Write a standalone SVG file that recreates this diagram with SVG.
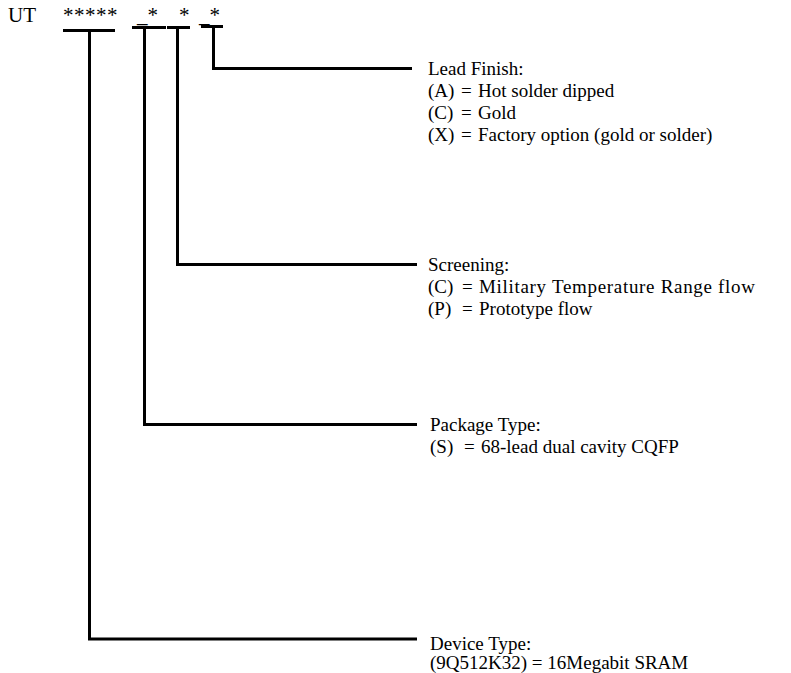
<svg xmlns="http://www.w3.org/2000/svg" width="791" height="673" viewBox="0 0 791 673">
<style>
text{font-family:"Liberation Serif","Times New Roman",serif;font-size:19px;fill:#000}
.top{font-size:21px}
.ln{fill:none;stroke:#000;stroke-width:3}
</style>
<rect width="791" height="673" fill="#fff"/>
<g id="code">
<text class="top" x="8" y="22">UT</text>
<text class="top" x="63" y="22" letter-spacing="0.5">*****</text>
<text class="top" x="137" y="22">_*</text>
<text class="top" x="179" y="22">*</text>
<text class="top" x="199" y="22">_*</text>
</g>
<g id="connectors">
<path class="ln" d="M63 30.5H115M89.5 30.5V639H417"/>
<path class="ln" d="M132 27.5H166M144.5 27.5V424.5H417"/>
<path class="ln" d="M167 27.5H190M177.5 27.5V264.5H417"/>
<path class="ln" d="M201 26.5H223M213.5 26.5V68.5H412"/>
</g>
<g id="lead-finish">
<text x="428" y="75">Lead Finish:</text>
<text x="428" y="97">(A)</text><text x="461" y="97">=</text><text x="478" y="97">Hot solder dipped</text>
<text x="428" y="119">(C)</text><text x="461" y="119">=</text><text x="478" y="119">Gold</text>
<text x="428" y="141">(X)</text><text x="461" y="141">=</text><text x="478" y="141">Factory option (gold or solder)</text>
</g>
<g id="screening">
<text x="428" y="271">Screening:</text>
<text x="428" y="293">(C)</text><text x="462" y="293">=</text><text x="479" y="293" textLength="276" lengthAdjust="spacing">Military Temperature Range flow</text>
<text x="428" y="315">(P)</text><text x="462" y="315">=</text><text x="479" y="315">Prototype flow</text>
</g>
<g id="package-type">
<text x="430" y="431">Package Type:</text>
<text x="430" y="453">(S)</text><text x="464" y="453">=</text><text x="481" y="453">68-lead dual cavity CQFP</text>
</g>
<g id="device-type">
<text x="430" y="650">Device Type:</text>
<text x="430" y="669">(9Q512K32) = 16Megabit SRAM</text>
</g>
</svg>
